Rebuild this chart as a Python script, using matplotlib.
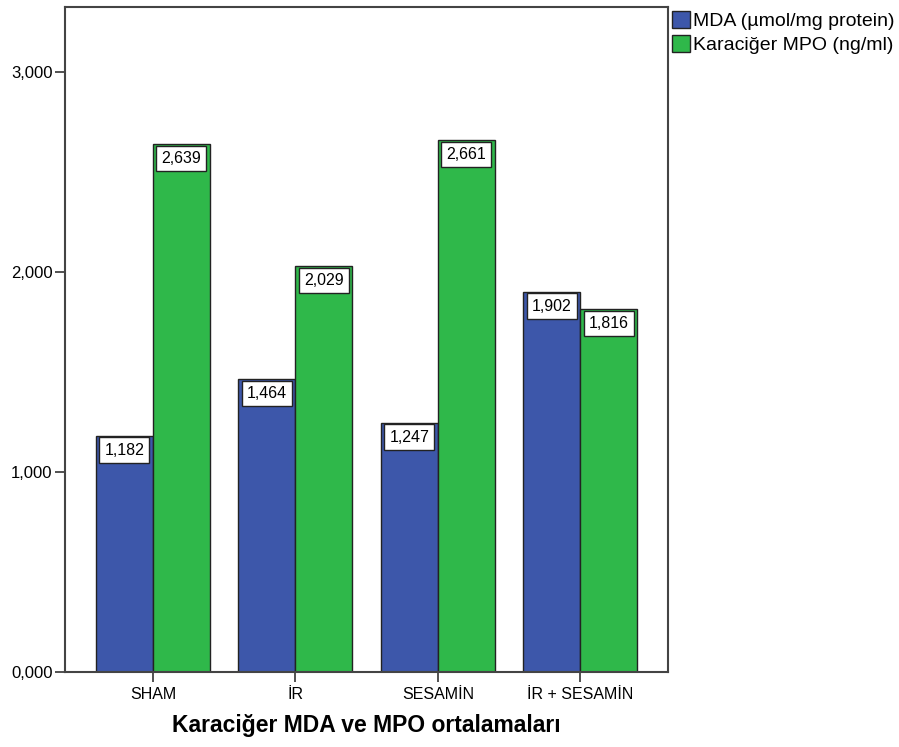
import numpy as np
import matplotlib.pyplot as plt
from matplotlib.patches import Patch

plt.rcParams['font.family'] = ['Liberation Sans', 'DejaVu Sans']

groups = ["SHAM", "İR", "SESAMİN", "İR + SESAMİN"]
mda = [1.182, 1.464, 1.247, 1.902]
mpo = [2.639, 2.029, 2.661, 1.816]
series_names = ["MDA (µmol/mg protein)", "Karaciğer MPO (ng/ml)"]
yticks = [0, 1, 2, 3]
ytick_labels = ["0,000", "1,000", "2,000", "3,000"]

blue = "#3d57aa"
green = "#2fb84a"
edge = "#222222"

fig = plt.figure(figsize=(8.99, 7.47), dpi=100)
ax = fig.add_axes([0.0723, 0.1004, 0.6707, 0.8902])

x = np.arange(len(groups))
w = 0.40
b1 = ax.bar(x - w / 2, mda, w, color=blue, edgecolor=edge, linewidth=1.0)
b2 = ax.bar(x + w / 2, mpo, w, color=green, edgecolor=edge, linewidth=1.0)


def fmt(v):
    return f"{v:.3f}".replace(".", ",")


for bars, vals in ((b1, mda), (b2, mpo)):
    for rect, v in zip(bars, vals):
        ax.annotate(fmt(v), (rect.get_x() + rect.get_width() / 2, v),
                    xytext=(0, -5), textcoords="offset points",
                    ha="center", va="top", fontsize=11.5,
                    bbox=dict(boxstyle="square,pad=0.32", fc="white",
                              ec=edge, lw=1.0))

ax.set_xlim(-0.617, 3.615)
ax.set_ylim(0, 3.325)
ax.set_yticks(yticks)
ax.set_yticklabels(ytick_labels, fontsize=12)
ax.set_xticks(x)
ax.set_xticklabels(groups, fontsize=11.5)
ax.tick_params(axis="y", direction="out", length=7.5, width=1.2,
               color="#333333", pad=1.5)
ax.tick_params(axis="x", direction="out", length=7.5, width=1.2,
               color="#333333", pad=3)
for s in ax.spines.values():
    s.set_color("#444444")
    s.set_linewidth(1.5)

ax.set_xlabel("Karaciğer MDA ve MPO ortalamaları", fontsize=16.5,
              fontweight="bold", labelpad=9)

handles = [Patch(facecolor=blue, edgecolor=edge),
           Patch(facecolor=green, edgecolor=edge)]
ax.legend(handles, series_names, loc="upper left",
          bbox_to_anchor=(1.0, 1.0), frameon=False, fontsize=14,
          borderaxespad=0.0, borderpad=0.2, handlelength=0.95,
          handleheight=0.95, handletextpad=0.15, labelspacing=0.25)

fig.savefig("out.png", dpi=100)
